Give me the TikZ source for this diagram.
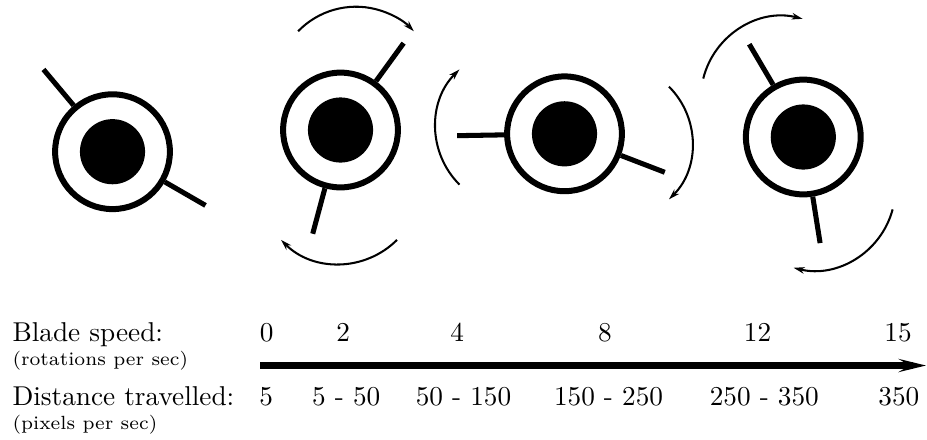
\documentclass[tikz,border=0pt]{standalone}
\usepackage{tikz}
\usetikzlibrary{arrows.meta}

\begin{document}
\begin{tikzpicture}[
    x=0.0129cm, y=0.0129cm,
    hub/.style={circle, draw, line width=2.2pt, minimum size=1.48cm, inner sep=0pt},
    core/.style={circle, fill, minimum size=0.84cm, inner sep=0pt},
    blade/.style={line width=1.85pt},
    spin/.style={line width=0.75pt, -{Stealth[length=4pt, width=2.4pt, inset=1.2pt]}},
    axis/.style={line width=2.75pt, -{Stealth[length=10pt, width=4.8pt, inset=4pt]}},
    lbl/.style={inner sep=0pt, anchor=base west},
    sublbl/.style={inner sep=0pt, anchor=base west, font=\scriptsize},
    val/.style={inner sep=0pt, anchor=base},
  ]
    \useasboundingbox (0,0) rectangle (927,439);

    % Fans: hub, core and two blades (angles of the blades)
    \foreach \n/\x/\y/\a/\b in {1/112.5/287.3/130/330, 2/340.5/309/54/255,
                                3/564.5/305.2/181/339, 4/803.3/302/120.5/279} {
      \node[hub] (fan\n) at (\x,\y) {};
      \node[core] (core\n) at (fan\n) {};
      \draw[blade] (fan\n.\a) -- ++(\a:47);
      \draw[blade] (fan\n.\b) -- ++(\b:47);
    }

    % Rotation arcs (all clockwise)
    \foreach \cx/\cy/\r/\s/\e in {356/351.8/80.5/136/44, 339/257.1/82/315/225,
                                  517/312/81.4/225/135, 612.6/296/79.7/45/-45,
                                  782.8/340.6/82/166/76, 813.4/250.8/82/-15/-104} {
      \draw[spin] (\cx,\cy) ++(\s:\r) arc[start angle=\s, end angle=\e, radius=\r];
    }

    % Speed axis
    \coordinate (axstart) at (260,73.5);
    \coordinate (axtip) at (926,73.5);
    \draw[axis] (axstart) -- (axtip);

    % Row labels
    \node[lbl] (speed) at (12,97.5) {Blade speed:};
    \node[sublbl] (speedunit) at (12,73.5) {(rotations per sec)};
    \node[lbl] (dist) at (12,34) {Distance travelled:};
    \node[sublbl] (distunit) at (12,10) {(pixels per sec)};

    % Values
    \foreach \i/\xa/\s/\xb/\d in {1/266.7/0/266.3/5, 2/343.3/2/346.3/5 - 50,
                                  3/457.3/4/463.5/50 - 150, 4/605/8/608.5/150 - 250,
                                  5/757.5/12/764.3/250 - 350, 6/898/15/898.8/350} {
      \node[val] (s\i) at (\xa,97.5) {\s};
      \node[val] (d\i) at (\xb,34) {\d};
    }
  \end{tikzpicture}
\end{document}
